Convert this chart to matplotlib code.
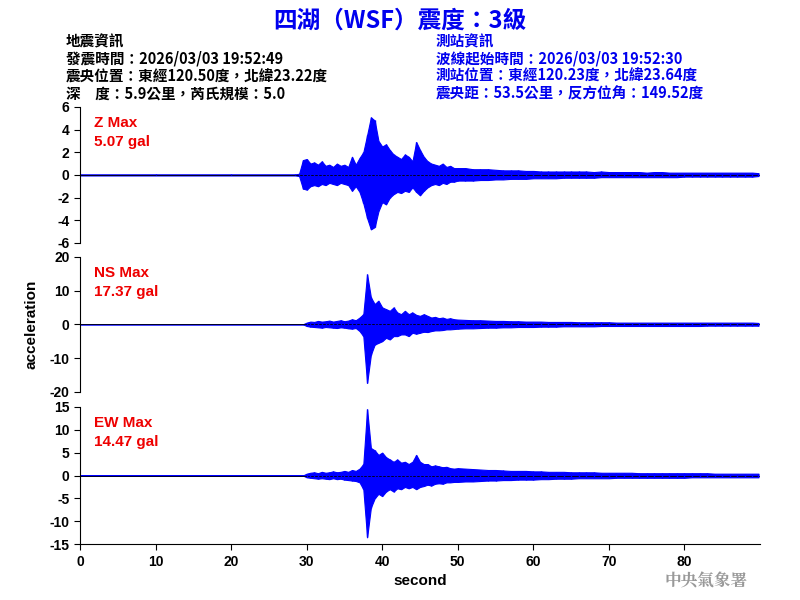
import numpy as np
import matplotlib
matplotlib.use("Agg")
import matplotlib.pyplot as plt

plt.rcParams["font.family"] = ["Liberation Sans", "Noto Sans CJK TC", "DejaVu Sans"]
plt.rcParams["font.weight"] = "bold"
plt.rcParams["axes.unicode_minus"] = False

# time grid (seconds), envelope bins
t_head = [0, 10, 20, 28.5]
t_mid = [29, 29.5, 30, 30.5, 31, 31.5, 32, 32.5, 33, 33.5, 34, 34.5, 35, 35.5, 36, 36.5,
         37, 37.5, 38, 38.5, 39, 39.5, 40, 40.5, 41, 41.5, 42, 42.5, 43, 43.5, 44, 44.5,
         45, 45.5, 46, 46.5, 47, 47.5, 48, 48.5, 49, 49.5, 50]
t_tail = [51, 52, 53, 54, 55, 56, 57, 58, 59, 60, 61, 62, 63, 64, 65, 66, 67, 68, 69, 70,
          71, 72, 73, 74, 75, 76, 77, 78, 79, 80, 81, 82, 83, 84, 85, 86, 87, 88, 89, 89.8]
times = t_head + t_mid + t_tail

z_up = [0.05, 0.05, 0.05, 0.05,
        0.1, 1.3, 1.4, 1.0, 1.1, 0.9, 1.2, 0.8, 0.9, 0.7, 1.0, 0.8, 0.9, 0.7, 1.6, 0.9,
        1.5, 2.0, 3.5, 5.07, 4.8, 3.0, 2.5, 2.7, 2.2, 1.8, 1.6, 1.4, 1.8, 1.6, 1.2, 2.9,
        2.2, 1.6, 1.2, 1.0, 0.9, 0.8, 1.0, 0.7, 0.8, 0.6, 0.6,
        0.6, 0.5, 0.5, 0.5, 0.45, 0.4, 0.4, 0.4, 0.35, 0.35, 0.3, 0.3, 0.3, 0.3, 0.3, 0.3,
        0.3, 0.25, 0.3, 0.25, 0.25, 0.25, 0.25, 0.25, 0.2, 0.25, 0.25, 0.2, 0.2, 0.2,
        0.2, 0.2, 0.2, 0.2, 0.2, 0.2, 0.2, 0.2, 0.2, 0.15]
z_lo = [-0.05, -0.05, -0.05, -0.05,
        -0.1, -1.2, -1.3, -1.0, -0.9, -1.0, -0.8, -0.9, -0.7, -0.8, -0.9, -0.7, -0.8, -0.9, -1.4, -1.0,
        -1.5, -2.5, -3.8, -4.8, -4.6, -3.2, -2.4, -2.6, -2.0, -1.7, -1.5, -1.6, -1.4, -1.5, -1.1, -1.5,
        -1.8, -1.4, -1.1, -0.9, -0.8, -0.9, -0.7, -0.8, -0.6, -0.6, -0.5,
        -0.5, -0.5, -0.45, -0.45, -0.4, -0.4, -0.35, -0.35, -0.35, -0.3, -0.3, -0.3, -0.3, -0.25, -0.25, -0.25,
        -0.25, -0.25, -0.2, -0.2, -0.2, -0.2, -0.2, -0.2, -0.2, -0.2, -0.2, -0.2, -0.2, -0.15,
        -0.15, -0.15, -0.15, -0.15, -0.15, -0.15, -0.15, -0.15, -0.15, -0.1]

ns_up = [0.0, 0.0, 0.0, 0.0,
         0.0, 0.0, 0.5, 0.8, 0.7, 1.0, 0.8, 0.9, 1.1, 0.8, 1.0, 1.2, 0.9, 1.1, 1.5, 1.2,
         2.0, 3.0, 14.8, 8.0, 6.0, 7.0, 5.0, 4.5, 4.0, 5.0, 3.5, 3.0, 4.0, 3.0, 3.5, 2.8,
         2.5, 3.0, 2.5, 2.0, 2.2, 1.8, 2.0, 1.6, 1.8, 1.5, 1.4,
         1.3, 1.2, 1.2, 1.1, 1.0, 1.0, 0.9, 0.9, 0.8, 0.8, 0.8, 0.7, 0.7, 0.7, 0.7, 0.6,
         0.6, 0.6, 0.6, 0.6, 0.5, 0.5, 0.5, 0.5, 0.5, 0.5, 0.5, 0.5, 0.5, 0.5,
         0.5, 0.5, 0.5, 0.5, 0.5, 0.5, 0.5, 0.5, 0.5, 0.4]
ns_lo = [0.0, 0.0, 0.0, 0.0,
         0.0, 0.0, -0.5, -0.7, -0.8, -0.9, -1.0, -0.8, -0.9, -1.0, -1.1, -0.9, -1.0, -1.2, -1.3, -1.1,
         -2.0, -3.5, -17.37, -9.0, -6.0, -5.5, -5.0, -4.0, -4.5, -3.5, -3.5, -3.0, -3.0, -3.5, -2.5, -2.8,
         -2.5, -2.2, -2.3, -2.0, -1.8, -1.8, -1.7, -1.5, -1.5, -1.4, -1.3,
         -1.2, -1.2, -1.1, -1.0, -1.0, -0.9, -0.9, -0.8, -0.8, -0.8, -0.7, -0.7, -0.7, -0.6, -0.6, -0.6,
         -0.6, -0.6, -0.5, -0.5, -0.5, -0.5, -0.5, -0.5, -0.5, -0.5, -0.5, -0.5, -0.5, -0.5,
         -0.5, -0.5, -0.4, -0.4, -0.4, -0.4, -0.4, -0.4, -0.4, -0.4]

ew_up = [0.0, 0.0, 0.0, 0.0,
         0.0, 0.0, 0.4, 0.6, 0.7, 0.5, 0.8, 0.6, 0.7, 0.9, 0.7, 0.8, 1.0, 0.8, 1.2, 1.0,
         1.5, 2.5, 14.47, 6.0, 5.5, 4.5, 5.0, 4.0, 3.5, 3.0, 3.5, 2.8, 3.0, 2.5, 3.0, 4.5,
         3.0, 2.5, 2.5, 2.0, 2.2, 2.0, 1.8, 1.9, 1.6, 1.5, 1.6,
         1.5, 1.4, 1.3, 1.2, 1.2, 1.1, 1.0, 1.0, 1.0, 0.9, 0.9, 0.8, 0.8, 0.8, 0.7, 0.7,
         0.7, 0.7, 0.6, 0.6, 0.6, 0.6, 0.6, 0.5, 0.5, 0.5, 0.5, 0.5, 0.5, 0.5,
         0.5, 0.5, 0.5, 0.4, 0.4, 0.4, 0.4, 0.4, 0.4, 0.4]
ew_lo = [0.0, 0.0, 0.0, 0.0,
         0.0, 0.0, -0.4, -0.5, -0.6, -0.7, -0.6, -0.7, -0.8, -0.6, -0.8, -0.7, -0.9, -1.0, -1.1, -1.2,
         -1.5, -3.0, -13.5, -7.0, -5.0, -4.0, -4.5, -3.5, -3.0, -3.5, -2.8, -3.0, -2.5, -2.8, -2.5, -3.0,
         -2.5, -2.3, -2.0, -2.2, -1.8, -1.7, -1.8, -1.5, -1.5, -1.4, -1.4,
         -1.3, -1.3, -1.2, -1.1, -1.1, -1.0, -1.0, -0.9, -0.9, -0.9, -0.8, -0.8, -0.7, -0.7, -0.7, -0.6,
         -0.6, -0.6, -0.6, -0.6, -0.5, -0.5, -0.5, -0.5, -0.5, -0.5, -0.5, -0.5, -0.5, -0.5,
         -0.4, -0.4, -0.4, -0.4, -0.4, -0.4, -0.4, -0.4, -0.4, -0.4]

panels = [
    ("Z Max\n5.07 gal", z_up, z_lo, 6, [-6, -4, -2, 0, 2, 4, 6]),
    ("NS Max\n17.37 gal", ns_up, ns_lo, 20, [-20, -10, 0, 10, 20]),
    ("EW Max\n14.47 gal", ew_up, ew_lo, 15, [-15, -10, -5, 0, 5, 10, 15]),
]
boxes = [(0.595, 0.822), (0.347, 0.572), (0.093, 0.322)]

fig = plt.figure(figsize=(8, 6), dpi=100)
cjk = ["Noto Sans CJK TC", "DejaVu Sans"]

fig.text(0.5, 0.965, "四湖（WSF）震度：3級", ha="center", va="center", color="#0000ee",
         fontsize=17, fontweight="bold", family=cjk)
left_info = "地震資訊\n發震時間：2026/03/03 19:52:49\n震央位置：東經120.50度，北緯23.22度\n深　度：5.9公里，芮氏規模：5.0"
right_info = "測站資訊\n波線起始時間：2026/03/03 19:52:30\n測站位置：東經120.23度，北緯23.64度\n震央距：53.5公里，反方位角：149.52度"
fig.text(0.082, 0.945, left_info, ha="left", va="top", fontsize=10.5, linespacing=1.12,
         family=cjk, color="black", fontweight="bold")
fig.text(0.545, 0.945, right_info, ha="left", va="top", fontsize=10.5, linespacing=1.12,
         family=cjk, color="#0000ee", fontweight="bold")

for i, ((label, up, lo, lim, ticks), (b, t)) in enumerate(zip(panels, boxes)):
    ax = fig.add_axes([0.1, b, 0.85, t - b])
    ax.axhline(0, color="black", lw=0.6)
    ax.fill_between(times, lo, up, color="#0000ff", lw=0.8)
    ax.vlines(times, lo, up, color="#0000ff", lw=1.0)
    ax.set_xlim(0, 90)
    ax.set_ylim(-lim, lim)
    ax.set_yticks(ticks)
    ax.tick_params(labelsize=10, length=4)
    for s in ("top", "right"):
        ax.spines[s].set_visible(False)
    if i < 2:
        ax.spines["bottom"].set_visible(False)
        ax.set_xticks([])
    else:
        ax.set_xticks([0, 10, 20, 30, 40, 50, 60, 70, 80])
        ax.set_xlabel("second", fontsize=11, fontweight="bold")
    ax.text(0.02, 0.93, label, transform=ax.transAxes, color="#ee0000", fontsize=11,
            fontweight="bold", va="top", ha="left", linespacing=1.4)

fig.text(0.04, 0.46, "acceleration", rotation=90, ha="center", va="center",
         fontsize=11, fontweight="bold")
fig.text(0.935, 0.032, "中央氣象署", ha="right", va="center", color="#999999",
         fontsize=12, fontweight="bold", family=["Noto Serif CJK TC", "Noto Sans CJK TC"])

fig.savefig("out.png", dpi=100)
